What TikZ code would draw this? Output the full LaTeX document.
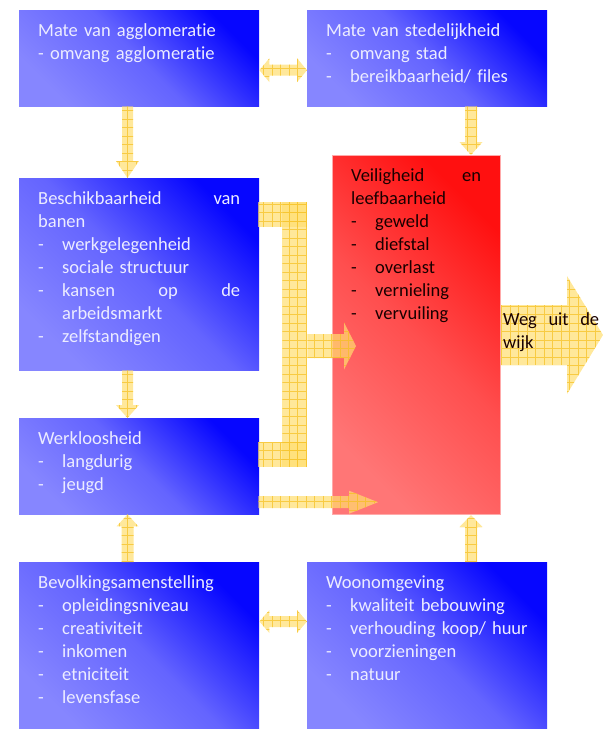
\documentclass[tikz,border=0pt]{standalone}
\usepackage{fontspec}
\setmainfont{Carlito}[Ligatures={NoCommon}]
\usetikzlibrary{calc}

\definecolor{boxlight}{RGB}{134,134,255}
\definecolor{boxmid}{RGB}{100,100,255}
\definecolor{boxdark}{RGB}{6,6,255}
\definecolor{redlight}{RGB}{255,118,118}
\definecolor{redmid}{RGB}{255,78,78}
\definecolor{reddark}{RGB}{255,16,16}
\definecolor{redborder}{RGB}{255,170,170}
\definecolor{arrowfill}{RGB}{255,222,112}
\definecolor{arrowgrid}{RGB}{245,192,30}
\definecolor{boxtext}{RGB}{236,236,255}

\tikzset{
  bluebox/.style={top color=boxdark, bottom color=boxlight, middle color=boxmid,
    shading angle=-45, draw=none, inner sep=0pt, anchor=north west},
  redbox/.style={top color=reddark, bottom color=redlight, middle color=redmid,
    shading angle=-45, draw=redborder, line width=1pt, inner sep=0pt, anchor=north west},
  boxtxt/.style={anchor=base west, inner sep=0pt, text width=202pt, align=left,
    font=\fontsize{18.5}{23}\selectfont, text=boxtext},
  redtxt/.style={boxtxt, text width=130pt, text={rgb,255:red,25;green,0;blue,0}},
  blockarrow/.style={fill=arrowfill, fill opacity=0.7, draw=none,
    path picture={\draw[arrowgrid, line width=0.6pt, opacity=0.7]
      (path picture bounding box.south west) grid[step=8.5pt]
      (path picture bounding box.north east);}},
}

\newcommand\itm{\makebox[24pt][l]{-}}

% block arrows: start, tip, shaft half-width, head half-width, head length
\newcommand\barrowdown[5]{%
  \path[blockarrow] let \p1=(#1), \p2=(#2) in
    (\x1-#3,\y1) -- (\x1-#3,\y2+#5) -- (\x1-#4,\y2+#5) -- (\x1,\y2)
    -- (\x1+#4,\y2+#5) -- (\x1+#3,\y2+#5) -- (\x1+#3,\y1) -- cycle;}
\newcommand\barrowup[5]{%
  \path[blockarrow] let \p1=(#1), \p2=(#2) in
    (\x1-#3,\y1) -- (\x1-#3,\y2-#5) -- (\x1-#4,\y2-#5) -- (\x1,\y2)
    -- (\x1+#4,\y2-#5) -- (\x1+#3,\y2-#5) -- (\x1+#3,\y1) -- cycle;}
\newcommand\barrowright[5]{%
  \path[blockarrow] let \p1=(#1), \p2=(#2) in
    (\x1,\y1+#3) -- (\x2-#5,\y1+#3) -- (\x2-#5,\y1+#4) -- (\x2,\y1)
    -- (\x2-#5,\y1-#4) -- (\x2-#5,\y1-#3) -- (\x1,\y1-#3) -- cycle;}
\newcommand\barrowboth[5]{%
  \path[blockarrow] let \p1=(#1), \p2=(#2) in
    (\x1,\y1) -- (\x1+#5,\y1+#4) -- (\x1+#5,\y1+#3) -- (\x2-#5,\y1+#3)
    -- (\x2-#5,\y1+#4) -- (\x2,\y1) -- (\x2-#5,\y1-#4) -- (\x2-#5,\y1-#3)
    -- (\x1+#5,\y1-#3) -- (\x1+#5,\y1-#4) -- cycle;}

\begin{document}
\begin{tikzpicture}[x=1pt, y=-1pt]
\useasboundingbox (0,0) rectangle (611,729);

% boxes
\node[bluebox, minimum width=240pt, minimum height=96pt]  (A) at (19,10)  {};
\node[bluebox, minimum width=240pt, minimum height=96pt]  (B) at (307,10) {};
\node[bluebox, minimum width=240pt, minimum height=192pt] (C) at (19,178) {};
\node[bluebox, minimum width=240pt, minimum height=96pt]  (D) at (19,418) {};
\node[bluebox, minimum width=240pt, minimum height=167pt] (F) at (19,562) {};
\node[bluebox, minimum width=240pt, minimum height=167pt] (G) at (307,562) {};
\node[redbox, minimum width=168pt, minimum height=359pt]  (E) at (332,155) {};

% connector end points
\coordinate (ab1) at ($(A.east)+(0,12)$);
\coordinate (ab2) at (ab1 -| B.west);
\coordinate (ac1) at ($(A.south west)+(108.5,0)$);
\coordinate (ac2) at (ac1 |- C.north);
\coordinate (be1) at ($(B.south west)+(164,0)$);
\coordinate (be2) at (be1 |- E.north);
\coordinate (cd1) at ($(C.south west)+(108.5,0)$);
\coordinate (cd2) at (cd1 |- D.north);
\coordinate (fd1) at ($(F.north west)+(108.5,0)$);
\coordinate (fd2) at (fd1 |- D.south);
\coordinate (ge1) at ($(G.north west)+(164,0)$);
\coordinate (ge2) at (ge1 |- E.south);
\coordinate (fg1) at ($(F.north east)+(0,59.5)$);
\coordinate (fg2) at (fg1 -| G.west);
\coordinate (mid1) at ($(C.north east)+(48,168)$);
\coordinate (mid2) at ($(E.west |- mid1)+(24,0)$);
\coordinate (de1) at ($(D.east)+(-1,36)$);
\coordinate (de2) at ($(E.west |- de1)+(46,0)$);
\coordinate (ew1) at (E.east);
\coordinate (ew2) at ($(E.east)+(102,0)$);

% connectors
\barrowboth{ab1}{ab2}{5.5pt}{12pt}{10pt}
\barrowdown{ac1}{ac2}{5.5pt}{11.5pt}{17pt}
\barrowdown{be1}{be2}{6pt}{11.5pt}{13pt}
\barrowdown{cd1}{cd2}{5.5pt}{11.5pt}{13pt}
\barrowup{fd1}{fd2}{6pt}{11pt}{12pt}
\barrowup{ge1}{ge2}{6pt}{11.5pt}{12pt}
\barrowboth{fg1}{fg2}{5.5pt}{11.5pt}{10pt}

% bracket collecting jobs and unemployment
\path[blockarrow] ($(C.north east)+(-1,24)$) rectangle ($(C.north east)+(48,49)$);
\path[blockarrow] ($(C.north east)+(23,24)$) rectangle ($(C.north east)+(48,289)$);
\path[blockarrow] ($(D.north east)+(-1,24)$) rectangle ($(D.north east)+(48,49)$);
\barrowright{mid1}{mid2}{12pt}{23.5pt}{12pt}
\barrowright{de1}{de2}{6pt}{11.5pt}{29pt}
\barrowright{ew1}{ew2}{30pt}{59pt}{36pt}

% texts
\node[boxtxt] (At) at ($(A.north west)+(19,26.5)$)
  {Mate van agglomeratie\\- omvang agglomeratie};
\node[boxtxt] (Bt) at ($(B.north west)+(19,26.5)$)
  {Mate van stedelijkheid\\\itm omvang stad\\\itm bereikbaarheid/ files};
\node[boxtxt] (Ct) at ($(C.north west)+(19,26.5)$)
  {Beschikbaarheid\hfill van\\banen\\\itm werkgelegenheid\\\itm sociale structuur\\
   \itm kansen\hfill op\hfill de\\\hspace*{24pt}arbeidsmarkt\\\itm zelfstandigen};
\node[boxtxt] (Dt) at ($(D.north west)+(19,26.5)$)
  {Werkloosheid\\\itm langdurig\\\itm jeugd};
\node[redtxt] (Et) at ($(E.north west)+(19,26.5)$)
  {Veiligheid\hfill en\\leefbaarheid\\\itm geweld\\\itm diefstal\\\itm overlast\\
   \itm vernieling\\\itm vervuiling};
\node[boxtxt] (Ft) at ($(F.north west)+(19,26.5)$)
  {Bevolkingsamenstelling\\\itm opleidingsniveau\\\itm creativiteit\\\itm inkomen\\
   \itm etniciteit\\\itm levensfase};
\node[boxtxt] (Gt) at ($(G.north west)+(19,26.5)$)
  {Woonomgeving\\\itm kwaliteit bebouwing\\\itm verhouding koop/ huur\\
   \itm voorzieningen\\\itm natuur};
\node[redtxt, text width=96pt] (Wt) at ($(E.east)+(2,-9.5)$)
  {Weg\hfill uit\hfill de\\wijk};
\end{tikzpicture}
\end{document}
